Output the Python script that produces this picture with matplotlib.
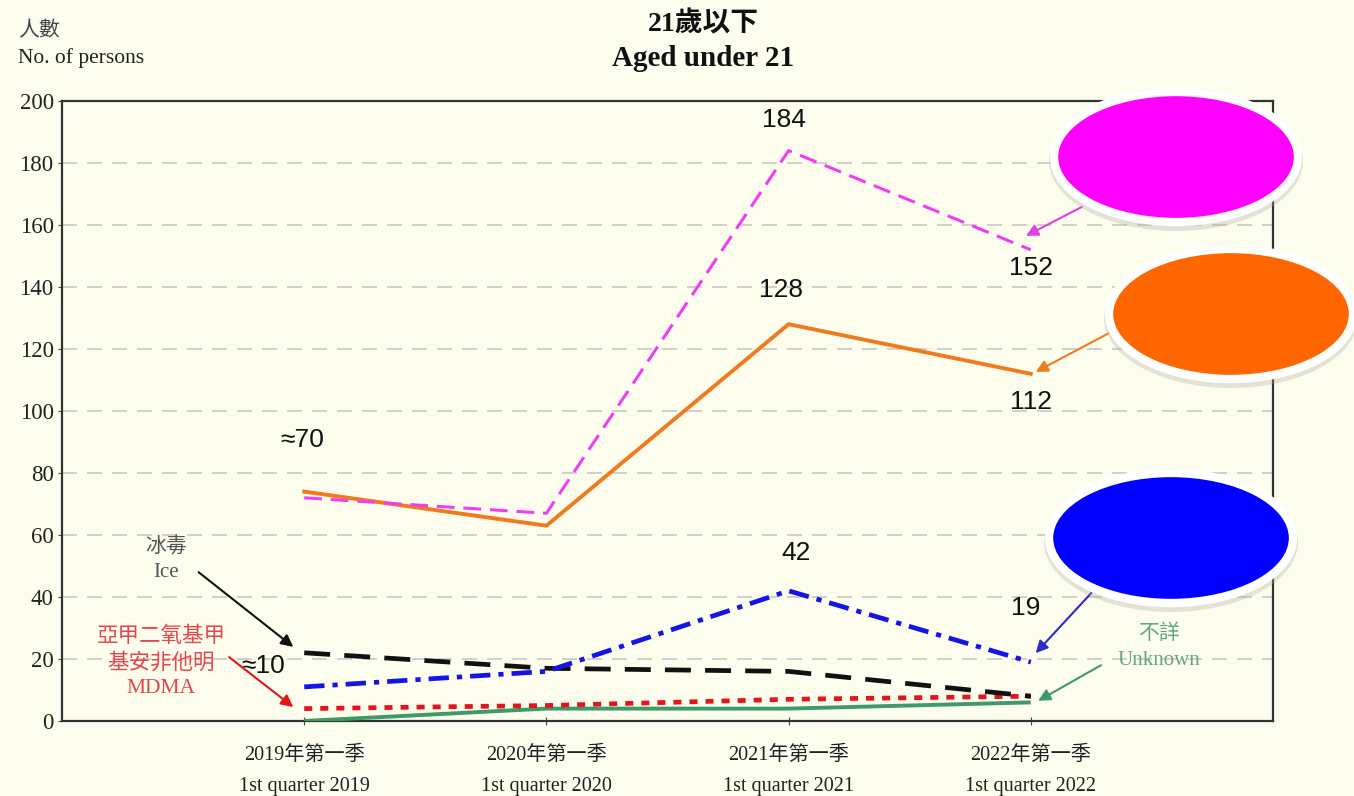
import matplotlib
matplotlib.use("Agg")
import matplotlib.pyplot as plt
from matplotlib.patches import Ellipse

# -------------------------
# DATA
# -------------------------
quarters_zh = ["2019年第一季", "2020年第一季", "2021年第一季", "2022年第一季"]
quarters_en = ["1st quarter 2019", "1st quarter 2020", "1st quarter 2021", "1st quarter 2022"]

magenta_vals = [72, 67, 184, 152]
orange_vals = [74, 63, 128, 112]
blue_vals = [11, 16, 42, 19]
ice_vals = [22, 17, 16, 8]
mdma_vals = [4, 5, 7, 8]
unknown_vals = [0, 4, 4, 6]

# -------------------------
# STYLE
# -------------------------
BG = "#fdfdee"
SERIF = ["Liberation Serif", "Noto Sans CJK TC"]
SANS = ["Liberation Sans", "DejaVu Sans"]
plt.rcParams["font.family"] = SERIF

W, H = 1354, 796
fig = plt.figure(figsize=(W / 100, H / 100), dpi=100, facecolor=BG)
ax = fig.add_axes([62 / W, 1 - 721 / H, (1273 - 62) / W, (721 - 101) / H])
ax.set_facecolor(BG)

x = list(range(len(quarters_zh)))

# series
ax.plot(x, unknown_vals, color="#3f9a6a", lw=2.8, solid_capstyle="butt", zorder=3)
ax.plot(x, mdma_vals, color="#e3141c", lw=3.4, linestyle=(0, (1.7, 1.7)),
        dash_capstyle="butt", zorder=3)
ax.plot(x, ice_vals, color="#111111", lw=3.4, linestyle=(0, (5.5, 3.0)),
        dash_capstyle="butt", zorder=3)
ax.plot(x, blue_vals, color="#1414e6", lw=3.4, linestyle=(0, (4.3, 1.7, 1.1, 1.7)),
        dash_capstyle="butt", zorder=3)
ax.plot(x, orange_vals, color="#f07a1e", lw=2.8, zorder=3)
ax.plot(x, magenta_vals, color="#f23cf2", lw=2.2, linestyle=(0, (5.8, 2.9)),
        dash_capstyle="butt", zorder=3)

# axes
ax.set_xlim(-1, 4)
ax.set_ylim(0, 200)
ax.set_yticks(range(0, 201, 20))
ax.set_yticklabels([str(v) for v in range(0, 201, 20)], fontsize=16.5, color="#222222")
ax.set_xticks(x)
ax.set_xticklabels([f"{z}\n{e}" for z, e in zip(quarters_zh, quarters_en)],
                   fontsize=14.5, color="#222222", linespacing=1.85)
ax.tick_params(axis="x", length=6, direction="inout", pad=15, color="#444444")
ax.tick_params(axis="y", length=3, direction="out", pad=3, color="#444444")
for s in ax.spines.values():
    s.set_color("#333333")
    s.set_linewidth(1.6)
for v in range(20, 200, 20):
    ax.axhline(v, color="#c9c9c4", lw=1.2, linestyle=(0, (9, 6)), zorder=1)

# value labels
val_font = dict(fontsize=19, family=SANS, ha="center", va="center", color="#111111")
ax.text(1.98, 194, "184", **val_font)
ax.text(3.0, 146, "152", **val_font)
ax.text(1.97, 139, "128", **val_font)
ax.text(3.0, 103, "112", **val_font)
ax.text(-0.01, 90.6, "≈70", **val_font)
ax.text(2.03, 54.2, "42", **val_font)
ax.text(2.98, 36.5, "19", **val_font)
ax.text(-0.17, 17.7, "≈10", **val_font)

# series labels
ax.text(-0.57, 55.8, "冰毒", fontsize=15, color="#555555", ha="center", va="center")
ax.text(-0.57, 48.0, "Ice", fontsize=15, color="#555555", ha="center", va="center")
mdma_c = "#e5464c"
ax.text(-0.59, 27.0, "亞甲二氧基甲", fontsize=15.5, color=mdma_c, ha="center", va="center")
ax.text(-0.59, 18.4, "基安非他明", fontsize=15.5, color=mdma_c, ha="center", va="center")
ax.text(-0.59, 10.4, "MDMA", fontsize=15.5, color=mdma_c, ha="center", va="center")
ax.text(3.53, 28.0, "不詳", fontsize=15, color="#62a582", ha="center", va="center")
ax.text(3.53, 19.5, "Unknown", fontsize=15, color="#62a582", ha="center", va="center")

# arrows
def arrow(tip, tail, color, lw=1.5):
    ax.annotate("", xy=tip, xytext=tail,
                arrowprops=dict(arrowstyle="-|>", color=color, lw=lw,
                                mutation_scale=18, shrinkA=0, shrinkB=0),
                zorder=4, annotation_clip=False)

arrow((-0.045, 23.9), (-0.436, 48), "#111111")
arrow((-0.045, 4.5), (-0.31, 20.6), "#e3141c")
arrow((2.98, 156.5), (3.21, 165.8), "#e040e0")
arrow((3.02, 112.6), (3.32, 125), "#f07a1e")
arrow((3.02, 21.9), (3.25, 41.3), "#2a2ad0")
arrow((3.03, 6.5), (3.29, 18), "#3f9a6a")

# ellipses drawn on top of the frame
for cx, cy, col in [(1176, 157, "#ff00ff"), (1231, 314, "#ff6600"), (1171, 538, "#0000ff")]:
    shadow = Ellipse((cx / W, 1 - (cy + 4) / H), 254 / W, 140 / H,
                     transform=fig.transFigure, facecolor="#a8a898", alpha=0.3,
                     edgecolor="none", zorder=5)
    fig.add_artist(shadow)
    e = Ellipse((cx / W, 1 - cy / H), 244 / W, 130 / H,
                transform=fig.transFigure, facecolor=col, edgecolor="white",
                lw=6, zorder=6)
    fig.add_artist(e)

# titles
fig.text(703 / W, 1 - 24 / H, "21歲以下", fontsize=20, fontweight="bold",
         ha="center", va="center", color="#111111")
fig.text(703 / W, 1 - 59 / H, "Aged under 21", fontsize=21, fontweight="bold",
         ha="center", va="center", color="#111111")
fig.text(18 / W, 1 - 32 / H, "人數", fontsize=15, color="#444444", ha="left", va="center")
fig.text(18 / W, 1 - 58 / H, "No. of persons", fontsize=15.5, color="#222222",
         ha="left", va="center")

fig.savefig("out.png", dpi=100, facecolor=BG)
